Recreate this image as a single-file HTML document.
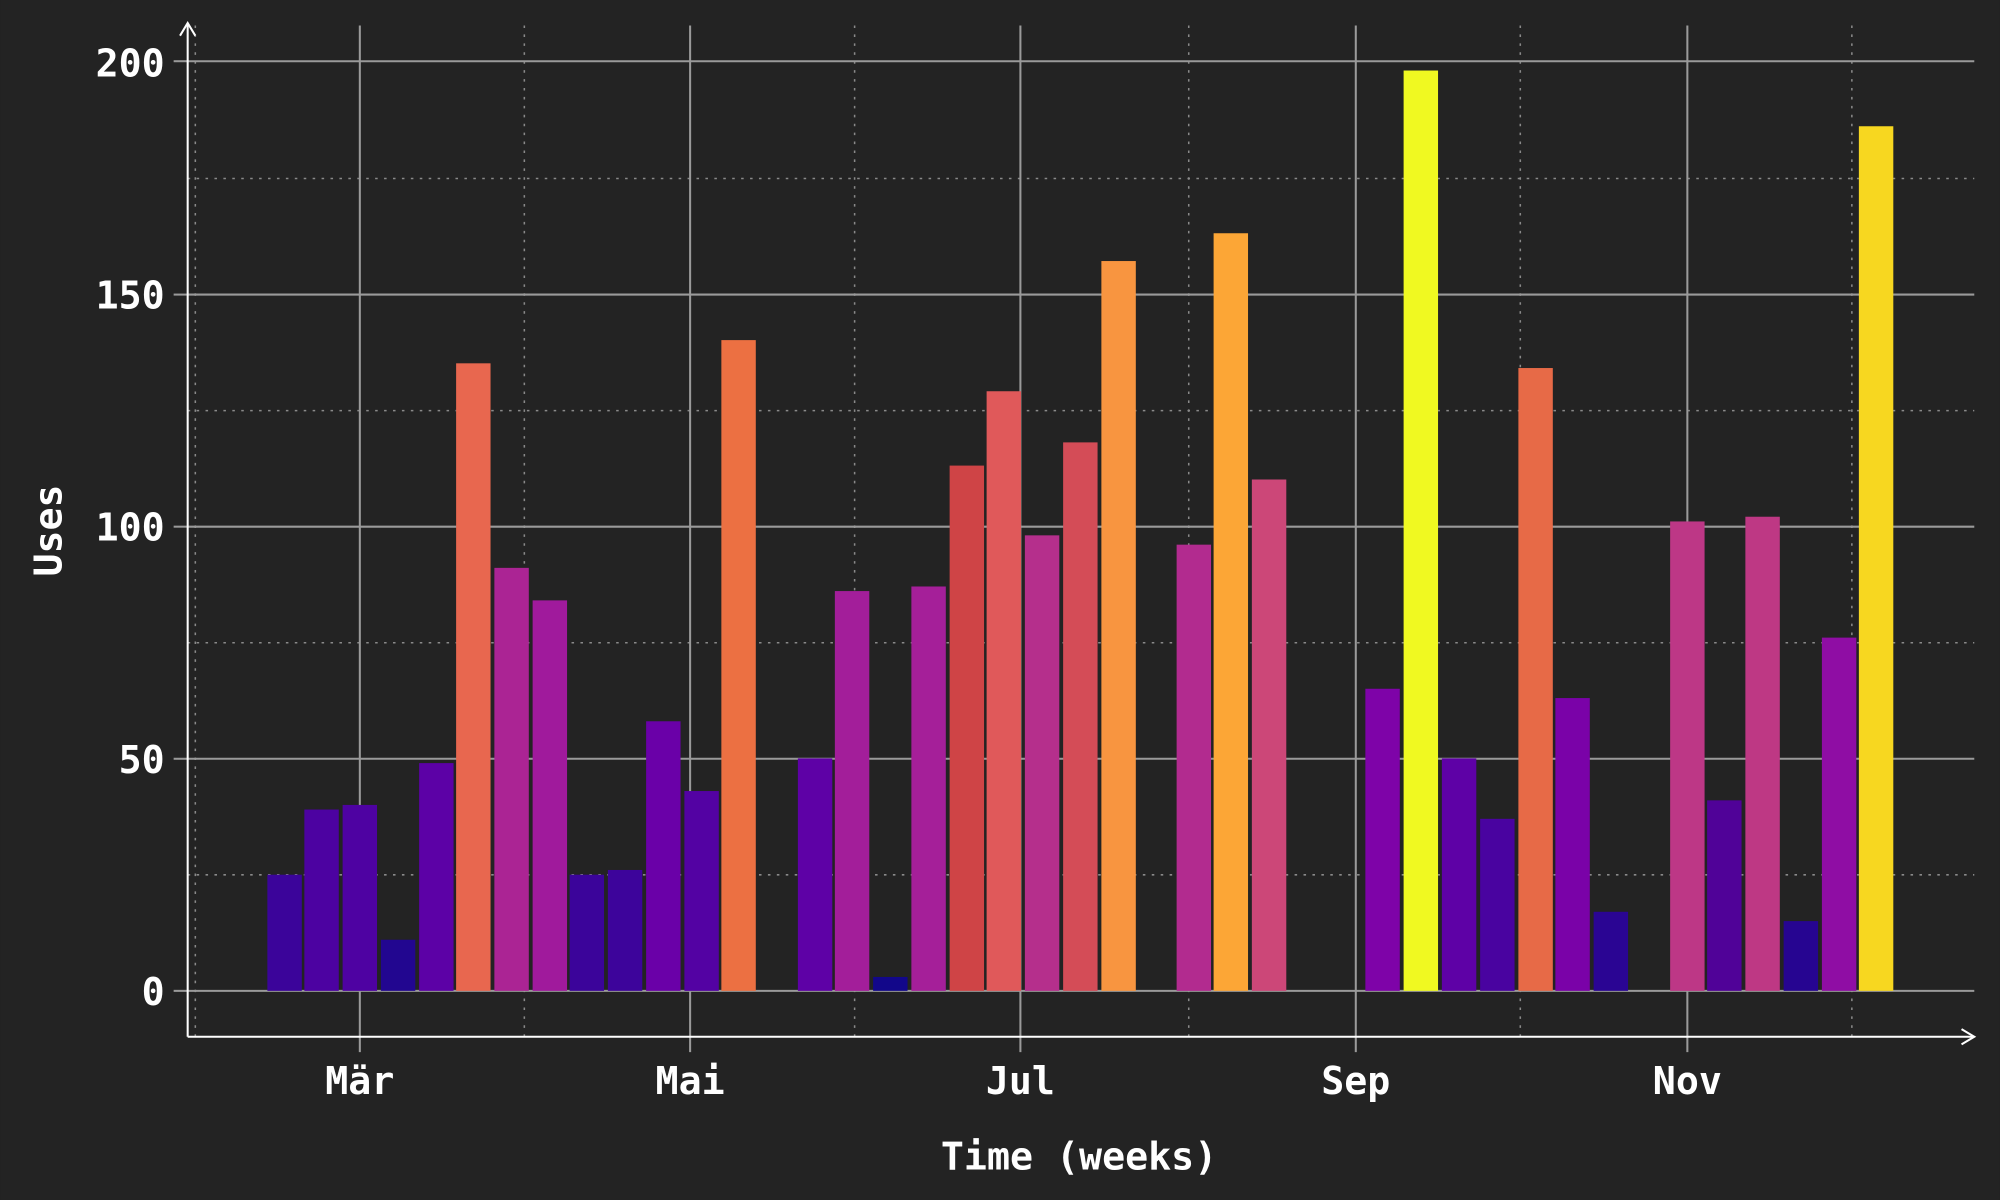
<!DOCTYPE html>
<html><head><meta charset="utf-8"><style>
html,body{margin:0;padding:0;background:#232323;}
svg{display:block;}
text{font-family:"DejaVu Sans Mono","Liberation Mono",monospace;fill:#ffffff;}
</style></head><body>
<svg width="2000" height="1200" viewBox="0 0 1568 941" xmlns="http://www.w3.org/2000/svg">
<rect width="1568" height="941" fill="#232323"/>
<g stroke="#8a8a8a" stroke-width="1.2" stroke-dasharray="2,5">
<line x1="147" x2="1548" y1="686" y2="686"/>
<line x1="147" x2="1548" y1="504" y2="504"/>
<line x1="147" x2="1548" y1="322" y2="322"/>
<line x1="147" x2="1548" y1="140" y2="140"/>
<line x1="153" x2="153" y1="20" y2="813"/>
<line x1="411" x2="411" y1="20" y2="813"/>
<line x1="670" x2="670" y1="20" y2="813"/>
<line x1="932" x2="932" y1="20" y2="813"/>
<line x1="1192" x2="1192" y1="20" y2="813"/>
<line x1="1452" x2="1452" y1="20" y2="813"/>
</g>
<g stroke="#9a9a9a" stroke-width="1.6">
<line x1="147" x2="1548" y1="777" y2="777"/>
<line x1="147" x2="1548" y1="595" y2="595"/>
<line x1="147" x2="1548" y1="413" y2="413"/>
<line x1="147" x2="1548" y1="231" y2="231"/>
<line x1="147" x2="1548" y1="48" y2="48"/>
<line x1="282" x2="282" y1="20" y2="825"/>
<line x1="541" x2="541" y1="20" y2="825"/>
<line x1="800" x2="800" y1="20" y2="825"/>
<line x1="1063" x2="1063" y1="20" y2="825"/>
<line x1="1323" x2="1323" y1="20" y2="825"/>
<line x1="136" x2="147" y1="777" y2="777"/>
<line x1="136" x2="147" y1="595" y2="595"/>
<line x1="136" x2="147" y1="413" y2="413"/>
<line x1="136" x2="147" y1="231" y2="231"/>
<line x1="136" x2="147" y1="48" y2="48"/>
</g>
<g>
<rect x="209.5" y="685.9" width="27" height="91.1" fill="#3b049a"/>
<rect x="238.5" y="634.8" width="27" height="142.2" fill="#4c02a1"/>
<rect x="268.5" y="631.2" width="27" height="145.8" fill="#4e02a2"/>
<rect x="298.5" y="736.9" width="27" height="40.1" fill="#220690"/>
<rect x="328.5" y="598.4" width="27" height="178.6" fill="#5c01a6"/>
<rect x="357.5" y="284.9" width="27" height="492.1" fill="#e8674f"/>
<rect x="387.5" y="445.3" width="27" height="331.7" fill="#ab2494"/>
<rect x="417.5" y="470.8" width="27" height="306.2" fill="#a01a9c"/>
<rect x="446.5" y="685.9" width="27" height="91.1" fill="#3b049a"/>
<rect x="476.5" y="682.2" width="27" height="94.8" fill="#3d049b"/>
<rect x="506.5" y="565.6" width="27" height="211.4" fill="#6a00a8"/>
<rect x="536.5" y="620.3" width="27" height="156.7" fill="#5302a3"/>
<rect x="565.5" y="266.7" width="27" height="510.3" fill="#ec7042"/>
<rect x="625.5" y="594.7" width="27" height="182.3" fill="#5e01a6"/>
<rect x="654.5" y="463.5" width="27" height="313.5" fill="#a31e9a"/>
<rect x="684.5" y="766.1" width="27" height="10.9" fill="#12078a"/>
<rect x="714.5" y="459.9" width="27" height="317.1" fill="#a51f99"/>
<rect x="744.5" y="365.1" width="27" height="411.9" fill="#cf4446"/>
<rect x="773.5" y="306.8" width="27" height="470.2" fill="#e0595a"/>
<rect x="803.5" y="419.8" width="27" height="357.2" fill="#b52f8c"/>
<rect x="833.5" y="346.9" width="27" height="430.1" fill="#d44c57"/>
<rect x="863.5" y="204.7" width="27" height="572.3" fill="#f89540"/>
<rect x="922.5" y="427.1" width="27" height="349.9" fill="#b22b8f"/>
<rect x="951.5" y="182.9" width="27" height="594.1" fill="#fca636"/>
<rect x="981.5" y="376.0" width="27" height="401.0" fill="#cc4778"/>
<rect x="1070.5" y="540.1" width="27" height="236.9" fill="#7e03a8"/>
<rect x="1100.5" y="55.3" width="27" height="721.7" fill="#f0f921"/>
<rect x="1130.5" y="594.7" width="27" height="182.3" fill="#5e01a6"/>
<rect x="1160.5" y="642.1" width="27" height="134.9" fill="#4903a0"/>
<rect x="1190.5" y="288.6" width="27" height="488.4" fill="#e76a47"/>
<rect x="1219.5" y="547.4" width="27" height="229.6" fill="#7a02a8"/>
<rect x="1249.5" y="715.0" width="27" height="62.0" fill="#2a0593"/>
<rect x="1309.5" y="408.9" width="27" height="368.1" fill="#bd3786"/>
<rect x="1338.5" y="627.6" width="27" height="149.4" fill="#500298"/>
<rect x="1368.5" y="405.2" width="27" height="371.8" fill="#be3884"/>
<rect x="1398.5" y="722.3" width="27" height="54.7" fill="#260591"/>
<rect x="1428.5" y="500.0" width="27" height="277.0" fill="#8f0da4"/>
<rect x="1457.5" y="99.0" width="27" height="678.0" fill="#f7d720"/>
</g>
<g stroke="#ffffff" stroke-width="1.6" fill="none">
<line x1="147" y1="813" x2="147" y2="18"/>
<polyline points="141,28 147,18 153,28"/>
<line x1="147" y1="813" x2="1548" y2="813"/>
<polyline points="1538,807 1548,813 1538,819"/>
</g>
<g font-size="30" text-anchor="end" font-weight="bold">
<text x="129" y="788">0</text>
<text x="129" y="606">50</text>
<text x="129" y="424">100</text>
<text x="129" y="242">150</text>
<text x="129" y="60">200</text>
</g>
<g font-size="30" text-anchor="middle" font-weight="bold">
<text x="282" y="858">Mär</text>
<text x="541" y="858">Mai</text>
<text x="800" y="858">Jul</text>
<text x="1063" y="858">Sep</text>
<text x="1323" y="858">Nov</text>
<text x="846" y="917">Time (weeks)</text>
<text transform="translate(48,416) rotate(-90)">Uses</text>
</g>
</svg>
</body></html>
